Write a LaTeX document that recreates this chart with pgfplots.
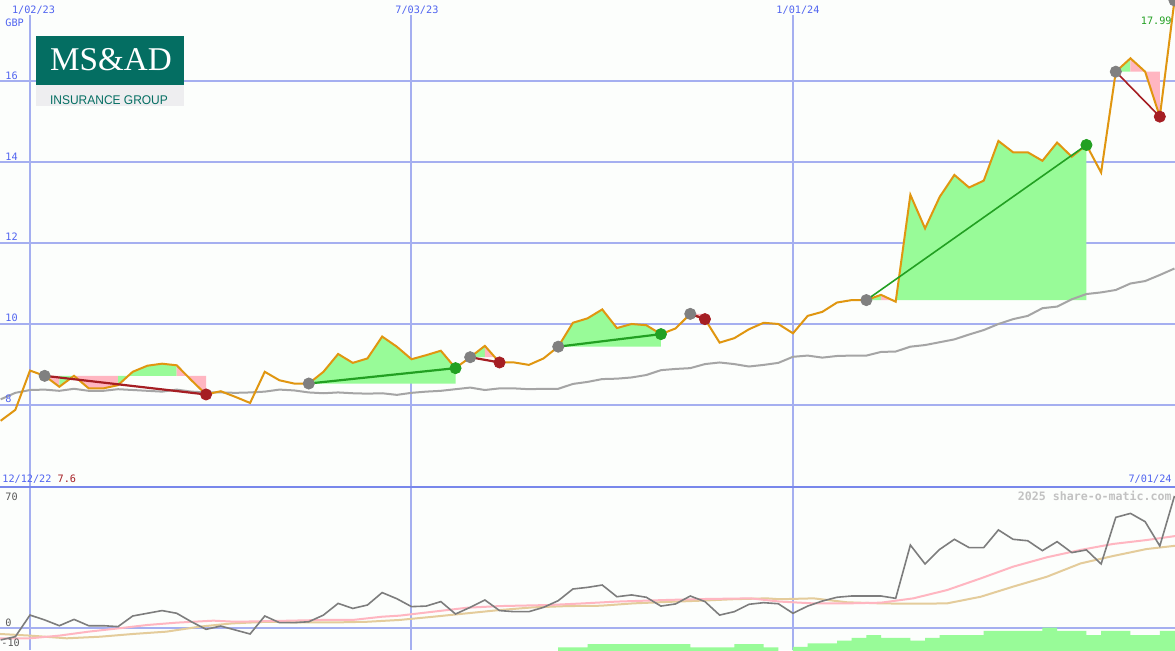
\documentclass[border=0pt]{standalone}
\usepackage{pgfplots}
\pgfplotsset{compat=1.18}
\usepackage{pgfplotstable}
\usepackage{fontspec}
\setmainfont{Liberation Sans}
\setmonofont{DejaVu Sans Mono}
\newfontfamily\logoserif{Liberation Serif}
\newfontfamily\logosans{Liberation Sans}

\definecolor{bg}{RGB}{252,254,252}
\definecolor{gridc}{RGB}{165,175,240}
\definecolor{sepc}{RGB}{120,135,235}
\definecolor{lbl}{RGB}{80,100,240}
\definecolor{price}{RGB}{224,150,16}
\definecolor{ma}{RGB}{165,165,165}
\definecolor{upfill}{RGB}{152,251,152}
\definecolor{dnfill}{RGB}{255,182,193}
\definecolor{winc}{RGB}{34,160,34}
\definecolor{lossc}{RGB}{165,30,35}
\definecolor{entryc}{RGB}{128,128,128}
\definecolor{oscc}{RGB}{125,125,125}
\definecolor{pinkc}{RGB}{255,182,193}
\definecolor{tanc}{RGB}{228,204,155}
\definecolor{logoteal}{RGB}{4,110,98}
\definecolor{logoband}{RGB}{238,238,240}

\newcommand\lb{\ttfamily\fontsize{5.1}{6}\selectfont}

% weekly closes, week 0 = 1/02/23
\pgfplotstableread{
w p
-2 7.61
-1 7.88
0 8.85
1 8.72
2 8.45
3 8.72
4 8.41
5 8.41
6 8.49
7 8.82
8 8.97
9 9.02
10 8.98
11 8.61
12 8.26
13 8.34
14 8.20
15 8.05
16 8.82
17 8.61
18 8.53
19 8.53
20 8.82
21 9.26
22 9.04
23 9.15
24 9.69
25 9.44
26 9.13
27 9.23
28 9.34
29 8.91
30 9.18
31 9.46
32 9.05
33 9.05
34 8.99
35 9.15
36 9.44
37 10.03
38 10.14
39 10.36
40 9.90
41 10.00
42 9.97
43 9.75
44 9.89
45 10.25
46 10.12
47 9.54
48 9.65
49 9.87
50 10.03
51 10.00
52 9.77
53 10.20
54 10.30
55 10.53
56 10.59
57 10.59
58 10.72
59 10.55
60 13.19
61 12.36
62 13.14
63 13.68
64 13.37
65 13.54
66 14.52
67 14.24
68 14.24
69 14.03
70 14.48
71 14.13
72 14.42
73 13.74
74 16.23
75 16.56
76 16.23
77 15.12
78 17.99
}\pricetab

\pgfplotstableread{
w m
-2 8.14
-1 8.30
0 8.37
1 8.38
2 8.35
3 8.40
4 8.35
5 8.35
6 8.39
7 8.37
8 8.35
9 8.33
10 8.38
11 8.33
12 8.31
13 8.31
14 8.30
15 8.31
16 8.33
17 8.38
18 8.36
19 8.31
20 8.29
21 8.31
22 8.29
23 8.28
24 8.29
25 8.25
26 8.30
27 8.33
28 8.35
29 8.39
30 8.43
31 8.37
32 8.41
33 8.41
34 8.39
35 8.40
36 8.40
37 8.52
38 8.57
39 8.64
40 8.65
41 8.68
42 8.74
43 8.86
44 8.89
45 8.91
46 9.01
47 9.05
48 9.01
49 8.95
50 8.99
51 9.04
52 9.19
53 9.22
54 9.17
55 9.21
56 9.22
57 9.22
58 9.31
59 9.32
60 9.44
61 9.48
62 9.55
63 9.62
64 9.74
65 9.85
66 10.00
67 10.12
68 10.20
69 10.39
70 10.43
71 10.61
72 10.74
73 10.78
74 10.84
75 11.00
76 11.06
77 11.21
78 11.37
}\matab

\pgfplotstableread{
w o
-2 -6.9
-1 -5.1
0 6.9
1 4.2
2 1.0
3 4.5
4 1.0
5 1.0
6 0.5
7 6.4
8 7.9
9 9.4
10 7.9
11 3.2
12 -1.0
13 0.8
14 -1.4
15 -3.6
16 6.4
17 2.7
18 2.7
19 3.2
20 6.9
21 13.4
22 10.6
23 12.5
24 19.4
25 16.0
26 11.6
27 11.9
28 14.4
29 7.5
30 11.2
31 15.3
32 9.4
33 8.8
34 8.8
35 11.2
36 14.9
37 21.4
38 22.3
39 23.6
40 17.1
41 18.1
42 16.8
43 11.9
44 13.1
45 17.5
46 14.4
47 6.9
48 8.8
49 12.9
50 13.8
51 13.2
52 7.9
53 11.9
54 14.7
55 16.8
56 17.5
57 17.5
58 17.5
59 16.2
60 45.8
61 35.3
62 43.4
63 49.0
64 44.4
65 44.4
66 54.2
67 49.0
68 48.2
69 42.7
70 47.7
71 41.6
72 43.1
73 35.3
74 61.2
75 63.4
76 58.8
77 45.3
78 73.1
}\osctab

\pgfplotstableread{
w s
-2.04 -6.0
0 -6.0
2 -4.5
4 -2.3
6 -0.5
8 1.4
10 2.7
12.5 3.8
14 3.2
16 3.5
20 4.2
22 4.2
24 6.0
25.2 6.6
27.5 8.8
29.8 11.0
32 11.9
35.4 12.5
37.7 13.4
40 14.4
43.4 15.3
45.7 15.8
49.1 16.2
51.1 14.4
53.4 13.4
55.7 13.4
58 13.8
60.2 16.2
62.5 20.8
64.8 27.3
67 33.8
69.3 39.0
71.6 43.1
73.8 46.4
76.1 48.6
78.04 50.8
}\pinktab

\pgfplotstableread{
w s
-2.04 -3.6
0 -4.5
2.5 -6.0
4.8 -5.1
7 -3.6
9.3 -2.3
11.6 0.5
13.8 2.3
16.2 3.2
18.4 2.8
20.7 2.8
23 3.2
25.2 4.2
27.5 6.0
29.8 7.9
32 9.7
34.3 11.2
36.6 11.9
38.9 12.1
41.1 13.4
43.4 14.2
45.7 14.9
47.9 15.7
50.2 16.2
51.1 15.7
53.4 16.2
55.7 14.0
58 13.4
60.2 13.2
62.5 13.4
64.8 17.1
67 22.7
69.3 28.2
71.6 35.6
73.8 39.7
76.1 43.6
78.04 45.4
}\tantab

\begin{document}
\begin{tikzpicture}
\pgfplotsset{
  chartbase/.style={
    scale only axis, width=587.5pt,
    xmin=-2.0446, xmax=78.035,
    axis line style={draw=none},
    xtick={0,26,52},
    xmajorticks=false, ymajorticks=false,
    xmajorgrids, ymajorgrids,
    x grid style={gridc, line width=1pt},
    y grid style={gridc, line width=1pt},
    axis background/.style={fill=bg},
  },
}
% ---------------- price panel
\begin{axis}[chartbase, at={(0,0)}, anchor=south west, height=243.5pt,
  ymin=5.975, ymax=18, ytick={8,10,12,14,16}]

% trade fills (between close and entry level)
\addplot[fill=dnfill, draw=none] coordinates {(1,8.72)(2,8.45)(2,8.72)};
\addplot[fill=upfill, draw=none] coordinates {(2,8.72)(2,8.45)(3,8.72)};
\addplot[fill=dnfill, draw=none] coordinates {(3,8.72)(4,8.41)(5,8.41)(6,8.49)(6,8.72)};
\addplot[fill=upfill, draw=none] coordinates {(6,8.72)(6,8.49)(7,8.82)(8,8.97)(9,9.02)(10,8.98)(10,8.72)};
\addplot[fill=dnfill, draw=none] coordinates {(10,8.72)(10,8.98)(11,8.61)(12,8.26)(12,8.72)};
\addplot[fill=upfill, draw=none] coordinates {(19,8.53)(20,8.82)(21,9.26)(22,9.04)(23,9.15)(24,9.69)(25,9.44)(26,9.13)(27,9.23)(28,9.34)(29,8.91)(29,8.53)};
\addplot[fill=upfill, draw=none] coordinates {(30,9.18)(31,9.46)(31,9.18)};
\addplot[fill=dnfill, draw=none] coordinates {(31,9.18)(31,9.46)(32,9.05)(32,9.18)};
\addplot[fill=upfill, draw=none] coordinates {(36,9.44)(37,10.03)(38,10.14)(39,10.36)(40,9.90)(41,10.00)(42,9.97)(43,9.75)(43,9.44)};
\addplot[fill=dnfill, draw=none] coordinates {(45,10.25)(46,10.12)(46,10.25)};
\addplot[fill=upfill, draw=none] coordinates {(57,10.59)(58,10.72)(58,10.59)};
\addplot[fill=dnfill, draw=none] coordinates {(58,10.59)(58,10.72)(59,10.55)(59,10.59)};
\addplot[fill=upfill, draw=none] coordinates {(59,10.59)(59,10.55)(60,13.19)(61,12.36)(62,13.14)(63,13.68)(64,13.37)(65,13.54)(66,14.52)(67,14.24)(68,14.24)(69,14.03)(70,14.48)(71,14.13)(72,14.42)(72,10.59)};
\addplot[fill=upfill, draw=none] coordinates {(74,16.23)(75,16.56)(75,16.23)};
\addplot[fill=dnfill, draw=none] coordinates {(75,16.23)(75,16.56)(76,16.23)(77,15.12)(77,16.23)};

\addplot[ma, line width=1pt] table[x=w, y=m] {\matab};
\addplot[price, line width=1pt] table[x=w, y=p] {\pricetab};

% trade lines
\addplot[lossc, line width=1.1pt] coordinates {(1,8.72)(12,8.26)};
\addplot[winc, line width=1.1pt] coordinates {(19,8.53)(29,8.91)};
\addplot[lossc, line width=1.1pt] coordinates {(30,9.18)(32,9.05)};
\addplot[winc, line width=1.1pt] coordinates {(36,9.44)(43,9.75)};
\addplot[lossc, line width=1.1pt] coordinates {(45,10.25)(46,10.12)};
\addplot[winc, line width=0.8pt] coordinates {(57,10.59)(72,14.42)};
\addplot[lossc, line width=0.8pt] coordinates {(74,16.23)(77,15.12)};

% signals
\addplot[only marks, mark=*, mark size=2.8pt, color=entryc]
  coordinates {(1,8.72)(19,8.53)(30,9.18)(36,9.44)(45,10.25)(57,10.59)(74,16.23)(78,17.99)};
\addplot[only marks, mark=*, mark size=2.8pt, color=winc]
  coordinates {(29,8.91)(43,9.75)(72,14.42)};
\addplot[only marks, mark=*, mark size=2.8pt, color=lossc]
  coordinates {(12,8.26)(32,9.05)(46,10.12)(77,15.12)};

% logo
\fill[logoteal] (axis cs:0.409,17.111) rectangle (axis cs:10.495,15.901);
\fill[logoband] (axis cs:0.409,15.901) rectangle (axis cs:10.495,15.383);
\node[anchor=base, inner sep=0, text=white, font=\logoserif\fontsize{16.6}{18}\selectfont] at (axis cs:5.52,16.247) {MS\&AD};
\node[anchor=base, inner sep=0, text=logoteal, xscale=0.95, font=\logosans\fontsize{6.3}{7}\selectfont] at (axis cs:5.384,15.432) {INSURANCE GROUP};

% labels
\fill[bg] (axis cs:-1.36,18) rectangle (axis cs:1.84,17.63);
\fill[bg] (axis cs:24.67,18) rectangle (axis cs:28.08,17.63);
\fill[bg] (axis cs:50.64,18) rectangle (axis cs:54.04,17.63);
\node[anchor=base, inner sep=0, text=lbl, font=\lb] at (axis cs:0.24,17.679) {1/02/23};
\node[anchor=base, inner sep=0, text=lbl, font=\lb] at (axis cs:26.37,17.679) {7/03/23};
\node[anchor=base, inner sep=0, text=lbl, font=\lb] at (axis cs:52.34,17.679) {1/01/24};
\node[anchor=base west, inner sep=0, text=lbl, font=\lb] at (axis cs:-1.704,17.358) {GBP};
\node[anchor=base west, inner sep=0, text=lbl, font=\lb, yshift=1pt] at (axis cs:-1.704,8) {8};
\node[anchor=base west, inner sep=0, text=lbl, font=\lb, yshift=1pt] at (axis cs:-1.704,10) {10};
\node[anchor=base west, inner sep=0, text=lbl, font=\lb, yshift=1pt] at (axis cs:-1.704,12) {12};
\node[anchor=base west, inner sep=0, text=lbl, font=\lb, yshift=1pt] at (axis cs:-1.704,14) {14};
\node[anchor=base west, inner sep=0, text=lbl, font=\lb, yshift=1pt] at (axis cs:-1.704,16) {16};
\node[anchor=base east, inner sep=0, text=winc, font=\lb] at (axis cs:77.83,17.383) {17.99};
\node[anchor=base west, inner sep=0, text=lbl, font=\lb] at (axis cs:-1.908,6.074) {12/12/22 \textcolor{lossc}{7.6}};
\node[anchor=base east, inner sep=0, text=lbl, font=\lb] at (axis cs:77.83,6.074) {7/01/24};
\end{axis}

% ---------------- indicator panel
\begin{axis}[chartbase, at={(0,0)}, anchor=north west, height=81.5pt,
  ymin=-12.5, ymax=78.06, ytick={0}]
\addplot[fill=upfill, draw=none, const plot] coordinates {
  (36,-20)(36,-11.0)(38,-9.2)(45,-11.0)(48,-9.2)(50,-11.0)(51,-20)(52,-10.7)
  (53,-8.8)(55,-7.3)(56,-5.7)(57,-4.2)(58,-5.7)(60,-7.3)(61,-5.7)(62,-4.2)
  (65,-1.9)(69,-0.1)(70,-1.9)(72,-4.2)(73,-1.9)(75,-4.2)(77,-1.9)(78.1,-1.9)
  (78.1,-20)(36,-20)};
\addplot[tanc, line width=1pt] table[x=w, y=s] {\tantab};
\addplot[pinkc, line width=1pt] table[x=w, y=s] {\pinktab};
\addplot[oscc, line width=0.8pt] table[x=w, y=o] {\osctab};

\node[anchor=base west, inner sep=0, text=black!65, font=\lb] at (axis cs:-1.704,70.8) {70};
\node[anchor=base west, inner sep=0, text=black!65, font=\lb] at (axis cs:-1.704,0.8) {0};
\node[anchor=base west, inner sep=0, text=black!65, font=\lb] at (axis cs:-1.976,-10.3) {-10};
\node[anchor=base east, inner sep=0, text=black!24, font=\lb\fontsize{5.8}{7}\selectfont\bfseries] at (axis cs:77.83,70.8) {2025 share-o-matic.com};
\end{axis}

\draw[sepc, line width=1pt] (0,0) -- (587.5pt,0);
\pgfresetboundingbox
\useasboundingbox (0,-81.5pt) rectangle (587.5pt,243.5pt);
\end{tikzpicture}
\end{document}
